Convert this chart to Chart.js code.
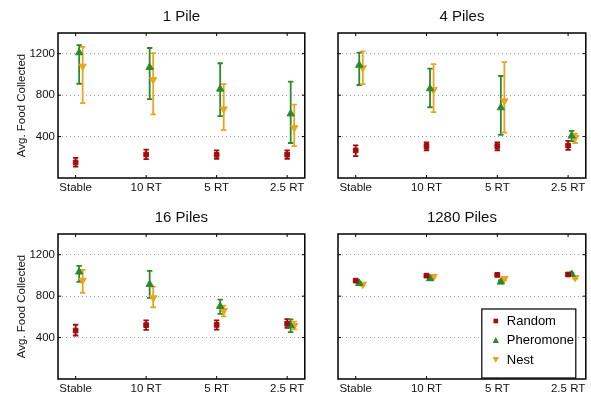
<!DOCTYPE html>
<html lang="en">
<head>
<meta charset="UTF-8" />
<title>Avg. Food Collected</title>
<style>
  * { margin: 0; padding: 0; }
  body { width: 591px; height: 397px; background: #fff; position: relative; overflow: hidden; }
  .panel { position: absolute; }
  #p1 { left: 0; top: 0; width: 310px; height: 200px; }
  #p2 { left: 310px; top: 0; width: 281px; height: 200px; }
  #p3 { left: 0; top: 200px; width: 310px; height: 197px; }
  #p4 { left: 310px; top: 200px; width: 281px; height: 197px; }
</style>
</head>
<body>
<div class="panel" id="p1"><canvas id="c1"></canvas></div>
<div class="panel" id="p2"><canvas id="c2"></canvas></div>
<div class="panel" id="p3"><canvas id="c3"></canvas></div>
<div class="panel" id="p4"><canvas id="c4"></canvas></div>
<script src="https://cdn.jsdelivr.net/npm/chart.js@4"></script>
<script>
// categories and tick labels
const categories = ["Stable", "10 RT", "5 RT", "2.5 RT"];
const yTicks = [400, 800, 1200];
const seriesNames = ["Random", "Pheromone", "Nest"];
const seriesColors = ["#a00d0d", "#2b8a2b", "#e8a51e"];

// [mean, low, high] per category
const pile1Random = [[150, 110, 195], [227, 182, 274], [224, 185, 266], [226, 186, 266]];
const pile1Pheromone = [[1210, 910, 1282], [1069, 761, 1255], [859, 598, 1108], [620, 338, 930]];
const pile1Nest = [[1079, 722, 1266], [949, 615, 1206], [666, 462, 907], [485, 308, 708]];

const pile4Random = [[266, 211, 315], [308, 268, 343], [308, 268, 343], [313, 272, 358]];
const pile4Pheromone = [[1089, 898, 1210], [862, 683, 1057], [679, 416, 985], [406, 357, 455]];
const pile4Nest = [[1063, 907, 1222], [852, 637, 1099], [744, 439, 1118], [390, 338, 429]];

const pile16Random = [[468, 420, 524], [520, 475, 566], [522, 477, 566], [534, 495, 579]];
const pile16Pheromone = [[1034, 937, 1093], [914, 784, 1044], [702, 628, 767], [515, 453, 575]];
const pile16Nest = [[953, 833, 1054], [784, 693, 891], [660, 605, 709], [515, 480, 554]];

const pile1280Random = [[950, 938, 962], [998, 986, 1010], [1005, 993, 1017], [1009, 997, 1021]];
const pile1280Pheromone = [[924, 910, 938], [969, 955, 983], [937, 923, 951], [1012, 998, 1026]];
const pile1280Nest = [[914, 902, 926], [990, 978, 1002], [970, 958, 982], [979, 967, 991]];

Chart.defaults.font.family = "'Liberation Sans', Arial, Helvetica, sans-serif";
Chart.defaults.color = "#111";

const errorBars = {
  id: "errorBars",
  beforeDatasetsDraw(chart) {
    const { ctx, scales: { x, y } } = chart;
    chart.data.datasets.forEach((ds) => {
      ctx.save();
      ctx.strokeStyle = ds.borderColor;
      ctx.lineWidth = 1.8;
      ds.data.forEach((p) => {
        const px = x.getPixelForValue(p.x);
        const lo = y.getPixelForValue(p.low);
        const hi = y.getPixelForValue(p.high);
        ctx.beginPath();
        ctx.moveTo(px, lo);
        ctx.lineTo(px, hi);
        ctx.moveTo(px - 2.7, lo);
        ctx.lineTo(px + 2.7, lo);
        ctx.moveTo(px - 2.7, hi);
        ctx.lineTo(px + 2.7, hi);
        ctx.stroke();
      });
      ctx.restore();
    });
  },
};

// black box round the plot, with small inward ticks
const frame = {
  id: "frame",
  afterDraw(chart) {
    const { ctx, chartArea: a, scales: { x, y } } = chart;
    ctx.save();
    ctx.strokeStyle = "#000";
    ctx.lineWidth = 1.5;
    ctx.strokeRect(a.left, a.top, a.right - a.left, a.bottom - a.top);
    ctx.lineWidth = 1;
    ctx.beginPath();
    yTicks.forEach((v) => {
      const py = y.getPixelForValue(v);
      ctx.moveTo(a.left, py);
      ctx.lineTo(a.left + 3, py);
      ctx.moveTo(a.right, py);
      ctx.lineTo(a.right - 3, py);
    });
    categories.forEach((c, i) => {
      const px = x.getPixelForValue(i + 1);
      ctx.moveTo(px, a.bottom);
      ctx.lineTo(px, a.bottom - 3);
      ctx.moveTo(px, a.top);
      ctx.lineTo(px, a.top + 3);
    });
    ctx.stroke();
    ctx.restore();
  },
};

const boxLegend = {
  id: "boxLegend",
  afterDraw(chart) {
    const { ctx, chartArea: a } = chart;
    const w = 94, h = 69;
    const left = a.right - 10 - w;
    const top = a.bottom - 1 - h;
    ctx.save();
    ctx.fillStyle = "#fff";
    ctx.fillRect(left, top, w, h);
    ctx.strokeStyle = "#000";
    ctx.lineWidth = 1.2;
    ctx.strokeRect(left, top, w, h);
    ctx.font = "13px 'Liberation Sans', Arial, sans-serif";
    ctx.textBaseline = "middle";
    seriesNames.forEach((name, i) => {
      const cy = top + 12 + i * 19.3;
      const cx = left + 14;
      ctx.fillStyle = seriesColors[i];
      ctx.beginPath();
      if (i === 0) {
        ctx.rect(cx - 2.3, cy - 2.3, 4.6, 4.6);
      } else if (i === 1) {
        ctx.moveTo(cx, cy - 3.2);
        ctx.lineTo(cx + 3.2, cy + 2.6);
        ctx.lineTo(cx - 3.2, cy + 2.6);
      } else {
        ctx.moveTo(cx, cy + 3.2);
        ctx.lineTo(cx + 3.2, cy - 2.6);
        ctx.lineTo(cx - 3.2, cy - 2.6);
      }
      ctx.closePath();
      ctx.fill();
      ctx.fillStyle = "#000";
      ctx.fillText(name, left + 25, cy + 0.5);
    });
    ctx.restore();
  },
};

function toPoints(values, offset) {
  return values.map((v, i) => ({ x: i + 1 + offset, y: v[0], low: v[1], high: v[2] }));
}

function makePanel(id, title, random, pheromone, nest, isLeft, isTop, withLegend) {
  const styles = [
    { pointStyle: "rect", radius: 3.3, rotation: 0, offset: 0 },
    { pointStyle: "triangle", radius: 4.2, rotation: 0, offset: 0.05 },
    { pointStyle: "triangle", radius: 4.2, rotation: 180, offset: 0.1 },
  ];
  const series = [random, pheromone, nest];
  const datasets = series.map((vals, i) => ({
    label: seriesNames[i],
    data: toPoints(vals, styles[i].offset),
    backgroundColor: seriesColors[i],
    borderColor: seriesColors[i],
    borderWidth: 1,
    pointStyle: styles[i].pointStyle,
    pointRadius: styles[i].radius,
    pointRotation: styles[i].rotation,
  }));

  const plugins = [errorBars, frame];
  if (withLegend) plugins.push(boxLegend);

  return new Chart(document.getElementById(id), {
    type: "scatter",
    data: { datasets: datasets },
    plugins: plugins,
    options: {
      responsive: true,
      maintainAspectRatio: false,
      animation: false,
      events: [],
      layout: { padding: { left: 0, right: 2, top: 0, bottom: 0 } },
      plugins: {
        legend: { display: false },
        tooltip: { enabled: false },
        title: {
          display: true,
          text: title,
          fullSize: false,
          color: "#111",
          font: { size: 15, weight: "normal" },
          padding: { top: isTop ? 8 : 9, bottom: 7 },
        },
      },
      scales: {
        x: {
          type: "linear",
          min: 0.75,
          max: 4.25,
          afterBuildTicks: (scale) => {
            scale.ticks = categories.map((c, i) => ({ value: i + 1 }));
          },
          afterFit: (scale) => {
            scale.height = isTop ? 22 : 18;
          },
          ticks: {
            autoSkip: false,
            maxRotation: 0,
            padding: 3,
            color: "#111",
            font: { size: 11.5 },
            callback: (v) => categories[v - 1],
          },
          grid: { display: false, drawTicks: false },
          border: { display: false },
        },
        y: {
          min: 0,
          max: 1400,
          afterBuildTicks: (scale) => {
            scale.ticks = yTicks.map((v) => ({ value: v }));
          },
          afterFit: (scale) => {
            scale.width = isLeft ? 58 : 28;
          },
          ticks: {
            display: isLeft,
            padding: 3,
            color: "#111",
            font: { size: 11.5 },
            callback: (v) => String(v),
          },
          grid: { color: "#9a9a9a", lineWidth: 1, drawTicks: false },
          border: { display: false, dash: [1, 3] },
          title: {
            display: isLeft,
            text: "Avg. Food Collected",
            color: "#111",
            font: { size: 11.5 },
            padding: { top: 15, bottom: 0 },
          },
        },
      },
    },
  });
}

makePanel("c1", "1 Pile", pile1Random, pile1Pheromone, pile1Nest, true, true, false);
makePanel("c2", "4 Piles", pile4Random, pile4Pheromone, pile4Nest, false, true, false);
makePanel("c3", "16 Piles", pile16Random, pile16Pheromone, pile16Nest, true, false, false);
makePanel("c4", "1280 Piles", pile1280Random, pile1280Pheromone, pile1280Nest, false, false, true);
</script>
</body>
</html>
